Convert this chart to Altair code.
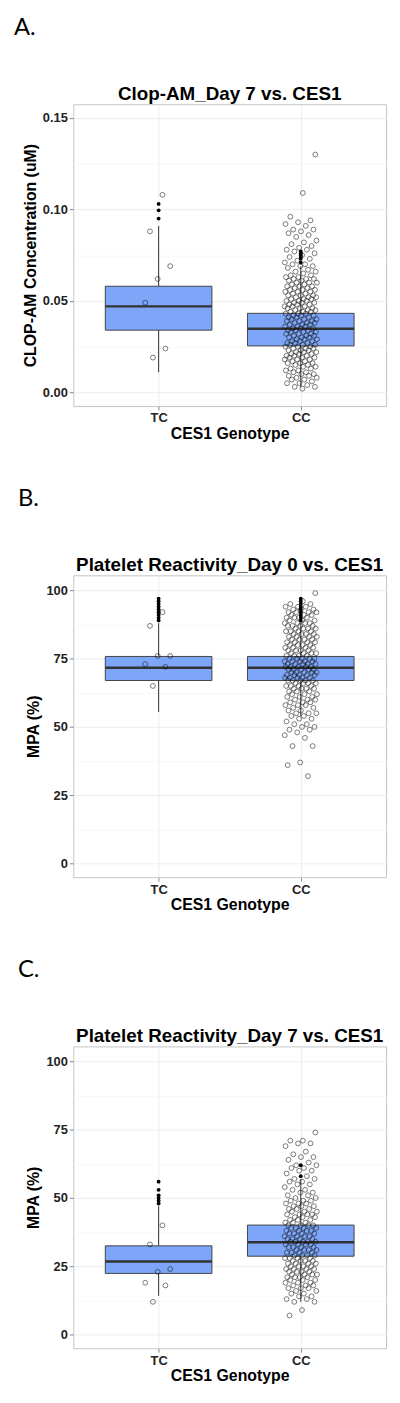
import altair as alt
import pandas as pd

FONT = "Liberation Sans"
GROUPS = ["TC", "CC"]

# ---------------- Panel A: Clop-AM Day 7 (uM) ----------------
A_TC_PTS = [0.108, 0.088, 0.069, 0.062, 0.049, 0.024, 0.019]
A_CC_PTS = [
    0.130, 0.109, 0.096, 0.094, 0.093, 0.092, 0.091, 0.089, 0.089, 0.088, 0.087, 0.086,
    0.085, 0.083, 0.082, 0.081, 0.080, 0.079, 0.078, 0.078, 0.077, 0.076, 0.075, 0.074,
    0.073, 0.072, 0.071, 0.070, 0.070, 0.069, 0.069, 0.068, 0.067, 0.066, 0.066, 0.065,
    0.064, 0.064, 0.063, 0.063, 0.062, 0.062, 0.062, 0.061, 0.061, 0.060, 0.060, 0.060,
    0.059, 0.059, 0.058, 0.058, 0.058, 0.057, 0.057, 0.056, 0.056, 0.056, 0.055, 0.055,
    0.055, 0.054, 0.054, 0.053, 0.053, 0.053, 0.052, 0.052, 0.052, 0.051, 0.051, 0.051,
    0.050, 0.050, 0.050,
    0.049, 0.049, 0.049, 0.048, 0.048, 0.048, 0.047, 0.047, 0.047, 0.046, 0.046, 0.046,
    0.045, 0.045, 0.045, 0.044, 0.044, 0.044, 0.043, 0.043, 0.043, 0.042, 0.042, 0.042,
    0.041, 0.041, 0.041, 0.040, 0.040, 0.040, 0.039, 0.039, 0.039, 0.038, 0.038, 0.038,
    0.037, 0.037, 0.037, 0.036, 0.036, 0.036, 0.035, 0.035, 0.035,
    0.034, 0.034, 0.034, 0.033, 0.033, 0.033, 0.032, 0.032, 0.032, 0.031, 0.031, 0.031,
    0.030, 0.030, 0.030, 0.029, 0.029, 0.029, 0.028, 0.028, 0.028, 0.027, 0.027, 0.027,
    0.026, 0.026, 0.026, 0.025, 0.025, 0.025, 0.024, 0.024, 0.024, 0.023, 0.023, 0.023,
    0.022, 0.022, 0.022, 0.021, 0.021, 0.021, 0.020, 0.020, 0.020,
    0.019, 0.019, 0.019, 0.018, 0.018, 0.018, 0.017, 0.017, 0.016, 0.016, 0.016, 0.015,
    0.015, 0.014, 0.014, 0.013, 0.013, 0.012, 0.012, 0.011, 0.011, 0.010, 0.010, 0.009,
    0.009, 0.008, 0.008, 0.007, 0.007, 0.006, 0.005, 0.005, 0.004, 0.003, 0.003, 0.002,
]
A_LO = [0.011, 0.003]
A_Q1 = [0.034, 0.0254]
A_MED = [0.047, 0.0348]
A_Q3 = [0.058, 0.0432]
A_HI = [0.091, 0.069]
A_OUT_TC = [0.095, 0.0995, 0.103]
A_OUT_CC = [0.071, 0.073, 0.074, 0.075, 0.076, 0.077]
A_TICKS = [0.00, 0.05, 0.10, 0.15]
A_MINOR = [0.025, 0.075, 0.125]

# ---------------- Panel B: Platelet reactivity Day 0 (MPA %) ----------------
B_TC_PTS = [92, 87, 76, 76, 73, 72, 65]
B_CC_PTS = [
    99, 96, 95, 95, 94, 94, 94, 93, 93, 93, 92, 92, 92, 92, 91, 91, 91, 90, 90, 90,
    90, 89, 89, 89, 88, 88, 88, 88, 87, 87, 87, 87, 86, 86, 86, 86, 85, 85, 85, 85,
    84, 84, 84, 84, 83, 83, 83, 83, 82, 82, 82, 82, 81, 81, 81, 81, 80, 80, 80, 80,
    79, 79, 79, 79, 78, 78, 78, 78, 77, 77, 77, 77, 76, 76, 76, 76,
    75, 75, 75, 75, 75, 74, 74, 74, 74, 74, 73, 73, 73, 73, 73, 72, 72, 72, 72, 72,
    71, 71, 71, 71, 71, 70, 70, 70, 70, 70, 69, 69, 69, 69, 69, 68, 68, 68, 68, 68,
    67, 67, 67, 67, 67,
    66, 66, 66, 66, 65, 65, 65, 65, 64, 64, 64, 64, 63, 63, 63, 62, 62, 62, 61, 61,
    61, 60, 60, 60, 59, 59, 59, 58, 58, 58, 57, 57, 56, 56, 55, 55, 55, 54, 54, 53,
    53, 52, 51, 51, 50, 50, 49, 49, 48, 47, 46, 43, 43, 37, 36, 32,
]
B_LO = [55.5, 54]
B_Q1 = [67, 67]
B_MED = [71.7, 71.7]
B_Q3 = [75.8, 75.8]
B_HI = [88, 88]
B_OUT_TC = [89, 90, 91, 92, 93, 94, 95, 96, 97]
B_OUT_CC = [89, 90, 91, 92, 93, 94, 95, 96, 97]
MPA_TICKS = [0, 25, 50, 75, 100]
MPA_MINOR = [12.5, 37.5, 62.5, 87.5]

# ---------------- Panel C: Platelet reactivity Day 7 (MPA %) ----------------
C_TC_PTS = [40, 33, 24, 23, 19, 18, 12]
C_CC_PTS = [
    74, 71, 71, 70, 70, 69, 67, 66, 65, 65, 64, 63, 62, 62, 61, 61, 60, 60, 59, 58,
    57, 57, 56, 56, 55, 55, 54, 53, 53, 52, 52, 51, 51, 50, 50, 49, 49, 49, 48, 48,
    48, 47, 47, 47, 46, 46, 46, 45, 45, 45, 44, 44, 44, 44, 43, 43, 43, 42, 42, 42,
    41, 41, 41, 40, 40, 40, 40,
    39, 39, 39, 39, 38, 38, 38, 38, 37, 37, 37, 37, 36, 36, 36, 36, 35, 35, 35, 35,
    34, 34, 34, 34, 34, 33, 33, 33, 33, 32, 32, 32, 32, 31, 31, 31, 31, 30, 30, 30,
    30, 29, 29, 29, 29, 28, 28, 28, 28,
    27, 27, 27, 27, 26, 26, 26, 26, 25, 25, 25, 25, 24, 24, 24, 24, 23, 23, 23, 23,
    22, 22, 22, 22, 21, 21, 21, 21, 20, 20, 20, 19, 19, 19, 18, 18, 18, 17, 17, 17,
    16, 16, 15, 15, 14, 14, 13, 13, 12, 12, 9, 7,
]
C_LO = [14.2, 12]
C_Q1 = [22.4, 28.7]
C_MED = [26.8, 33.8]
C_Q3 = [32.5, 40.1]
C_HI = [47, 57]
C_OUT_TC = [48, 49, 50, 51, 53, 56]
C_OUT_CC = [58, 62]

BOX_FILL = "#7EA6F8"
POS = [1, 2]
W, H = 316, 305


def make_panel(letter, letter_dx, title, ytitle, ydomain, yticks, yminor, yfmt,
               lo, q1, med, q3, hi, out_tc, out_cc, pts_tc, pts_cc):
    box = pd.DataFrame({"grp": GROUPS, "pos": POS, "lo": lo, "q1": q1,
                        "med": med, "q3": q3, "hi": hi})
    out = pd.DataFrame({
        "pos": [POS[0]] * len(out_tc) + [POS[1]] * len(out_cc),
        "val": list(out_tc) + list(out_cc),
    })
    pts = pd.DataFrame({
        "pos": [POS[0]] * len(pts_tc) + [POS[1]] * len(pts_cc),
        "val": list(pts_tc) + list(pts_cc),
    })

    label_expr = " : ".join(
        [f"datum.value == {p} ? '{g}'" for p, g in zip(POS[:-1], GROUPS[:-1])]
        + [f"'{GROUPS[-1]}'"]
    )
    minor_test = "indexof([" + ",".join(str(v) for v in yminor) + "], datum.value) >= 0"
    xs = alt.Scale(domain=[0.4, 2.6], nice=False, zero=False)
    ys = alt.Scale(domain=ydomain, nice=False, zero=False)
    xaxis = alt.Axis(values=POS, labelExpr=label_expr, title="CES1 Genotype",
                     grid=True, labelPadding=2, titlePadding=1)
    yaxis = alt.Axis(
        values=sorted(list(yticks) + list(yminor)), format=yfmt, title=ytitle,
        grid=True, labelPadding=2, titlePadding=4,
        labelExpr=f"{minor_test} ? '' : datum.label",
        tickColor={"condition": {"test": minor_test, "value": "transparent"},
                   "value": "#888888"},
        gridColor={"condition": {"test": minor_test, "value": "#f7f7f7"},
                   "value": "#ededed"},
    )

    def X(f):
        return alt.X(f, scale=xs, axis=xaxis)

    def Y(f):
        return alt.Y(f, scale=ys, axis=yaxis)

    bb = alt.Chart(box).transform_calculate(
        xl="datum.pos - 0.375", xr="datum.pos + 0.375")

    w_lo = bb.mark_rule(color="#333333", strokeWidth=1).encode(
        x=X("pos:Q"), y=Y("lo:Q"), y2="q1:Q")
    w_hi = bb.mark_rule(color="#333333", strokeWidth=1).encode(
        x=X("pos:Q"), y=Y("q3:Q"), y2="hi:Q")
    rect = bb.mark_rect(fill=BOX_FILL, stroke="#444444", strokeWidth=1).encode(
        x=X("xl:Q"), x2="xr:Q", y=Y("q1:Q"), y2="q3:Q")
    medl = bb.mark_rule(color="#333333", strokeWidth=2.5).encode(
        x=X("xl:Q"), x2="xr:Q", y=Y("med:Q"))

    jit = alt.Chart(pts).transform_window(
        idx="row_number()"
    ).transform_calculate(
        jx="datum.pos + (((datum.idx * 0.6180339887) % 1) - 0.5) * 0.23"
    ).mark_point(shape="circle", filled=False, size=24, strokeWidth=0.85,
                 color="#111111", opacity=0.65).encode(
        x=X("jx:Q"), y=Y("val:Q"))

    outl = alt.Chart(out).mark_circle(size=15, color="black", opacity=1).encode(
        x=X("pos:Q"), y=Y("val:Q"))

    txt = pd.DataFrame({"letter": [letter], "title": [title]})
    lab = alt.Chart(txt).mark_text(
        font="Lato", fontSize=24, align="left", baseline="alphabetic",
        color="black").encode(
        x=alt.value(letter_dx), y=alt.value(-70), text="letter:N")
    ttl = alt.Chart(txt).mark_text(
        font=FONT, fontSize=19, fontWeight="bold", align="center",
        baseline="alphabetic", color="black").encode(
        x=alt.value(W / 2), y=alt.value(-4), text="title:N")

    return alt.layer(w_lo, w_hi, rect, medl, jit, outl, lab, ttl).properties(
        width=W, height=H)


pA = make_panel("A.", -60, "Clop-AM_Day 7 vs. CES1", "CLOP-AM Concentration (uM)",
                [-0.0075, 0.1575], A_TICKS, A_MINOR, ".2f",
                A_LO, A_Q1, A_MED, A_Q3, A_HI, A_OUT_TC, A_OUT_CC, A_TC_PTS, A_CC_PTS)
pB = make_panel("B.", -56, "Platelet Reactivity_Day 0 vs. CES1", "MPA (%)",
                [-5, 105.5], MPA_TICKS, MPA_MINOR, "d",
                B_LO, B_Q1, B_MED, B_Q3, B_HI, B_OUT_TC, B_OUT_CC, B_TC_PTS, B_CC_PTS)
pC = make_panel("C.", -56, "Platelet Reactivity_Day 7 vs. CES1", "MPA (%)",
                [-5, 105.5], MPA_TICKS, MPA_MINOR, "d",
                C_LO, C_Q1, C_MED, C_Q3, C_HI, C_OUT_TC, C_OUT_CC, C_TC_PTS, C_CC_PTS)

chart = alt.vconcat(pA, pB, pC, spacing=44).properties(
    padding={"top": 0, "left": 5, "right": 5, "bottom": 5}
).configure_view(
    stroke="#c4c4c4", strokeWidth=1
).configure_axis(
    domain=False, labelFont=FONT, labelFontWeight="bold", labelFontSize=13,
    labelColor="#222222", tickColor="#888888", tickSize=4, tickWidth=1,
    titleFont=FONT, titleFontWeight="bold", titleFontSize=16, titleColor="black",
    gridColor="#ededed", gridWidth=1,
)

chart.save("out.html", embed_options={"renderer": "svg", "actions": False})
